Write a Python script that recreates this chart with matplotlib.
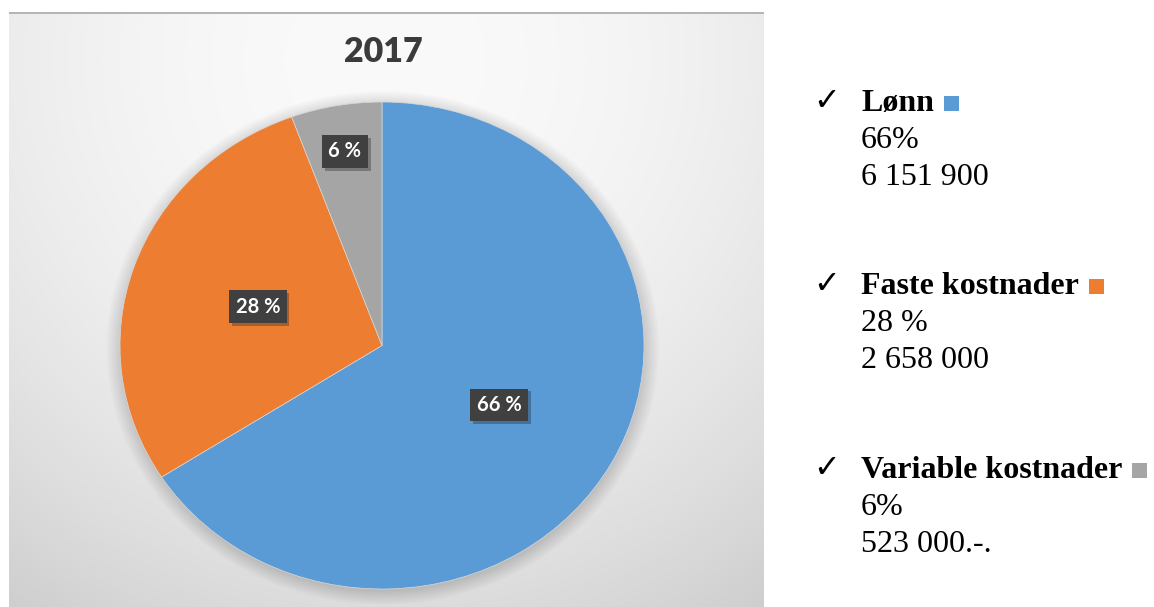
import matplotlib
matplotlib.use("Agg")
import matplotlib.pyplot as plt
import numpy as np
from matplotlib.patches import Rectangle, Ellipse
import matplotlib.patheffects as pe

# ---------------- data ----------------
title = "2017"
categories = ["Lønn", "Faste kostnader", "Variable kostnader"]
amounts = [6151900, 2658000, 523000]
pct_text = ["66%", "28 %", "6%"]
amount_text = ["6 151 900", "2 658 000", "523 000.-."]
colors = ["#5B9BD5", "#ED7D31", "#A5A5A5"]

# ---------------- figure ----------------
W, H = 1154, 607
fig = plt.figure(figsize=(W / 100, H / 100), dpi=100)
fig.patch.set_facecolor("white")


def fx(px):
    return px / W


def fy(py):
    return 1 - py / H


# chart area background (radial gradient)
L, R, T = 9, 764, 14
bg = fig.add_axes([fx(L), 0, fx(R) - fx(L), 1 - T / H])
yy, xx = np.mgrid[T:H, L:R]
d = np.hypot(xx - 385, yy - 60)
val = np.clip(250 - 44 * (d / 664) ** 2, 0, 255) / 255
bg.imshow(np.dstack([val, val, val]), aspect="auto", interpolation="bilinear")
bg.axis("off")
fig.add_artist(Rectangle((fx(L), fy(T)), fx(R) - fx(L), 2 / H,
                         transform=fig.transFigure, color="#b5b5b5", lw=0))

# pie axes (slightly elliptical like the reference)
rx, ry = 262, 243.5
cx, cy = 382, 345.5
m = 1.06
ax = fig.add_axes([fx(cx - m * rx), fy(cy + m * ry), 2 * m * rx / W, 2 * m * ry / H])

# soft shadow
for i in range(12):
    s = 1 + 0.005 * i
    ax.add_patch(Ellipse((0.003, -0.010), 2 * s, 2 * s, color="black",
                         alpha=0.012, lw=0, zorder=0))

wedges, _ = ax.pie(amounts, colors=colors, startangle=90, counterclock=False,
                   wedgeprops=dict(edgecolor="#d8d8d8", linewidth=0.5))
ax.set_aspect("auto")
ax.set_xlim(-m, m)
ax.set_ylim(-m, m)
ax.axis("off")

label_dist = [0.51, 0.50, 0.81]
total = sum(amounts)
for w, v, dist in zip(wedges, amounts, label_dist):
    a = np.deg2rad((w.theta1 + w.theta2) / 2)
    t = ax.text(dist * np.cos(a), dist * np.sin(a), f"{v / total * 100:.0f} %",
                ha="center", va="center", color="white", fontsize=14.5,
                fontweight="bold", family="Lato",
                bbox=dict(boxstyle="square,pad=0.32", fc="#404040", ec="none"),
                zorder=5)
    t.get_bbox_patch().set_path_effects(
        [pe.SimplePatchShadow(offset=(2, -2), alpha=0.3), pe.Normal()])

fig.text(fx(383), fy(52), title, ha="center", va="center", fontsize=24.5,
         fontweight="heavy", family="Lato", color="#3b3b3b")

# ---------------- right-hand list ----------------
head_base = [111, 294, 478]
pitch = 37
fig.canvas.draw()
renderer = fig.canvas.get_renderer()
for cat, p, a, c, b in zip(categories, pct_text, amount_text, colors, head_base):
    fig.text(fx(813), fy(b - 1), "\u2713", ha="left", va="baseline", fontsize=23,
             family="DejaVu Sans", color="black")
    th = fig.text(fx(861), fy(b), cat, ha="left", va="baseline", fontsize=23,
                  fontweight="bold", family="Liberation Serif", color="black")
    fig.text(fx(861), fy(b + pitch), p, ha="left", va="baseline", fontsize=23,
             family="Liberation Serif", color="black")
    fig.text(fx(861), fy(b + 2 * pitch), a, ha="left", va="baseline", fontsize=23,
             family="Liberation Serif", color="black")
    ext = th.get_window_extent(renderer)
    x0 = ext.x1 + 10
    fig.add_artist(Rectangle((x0 / W, (H - b) / H), 15 / W, 15 / H,
                             transform=fig.transFigure, color=c, lw=0))

fig.savefig("out.png", dpi=100)
